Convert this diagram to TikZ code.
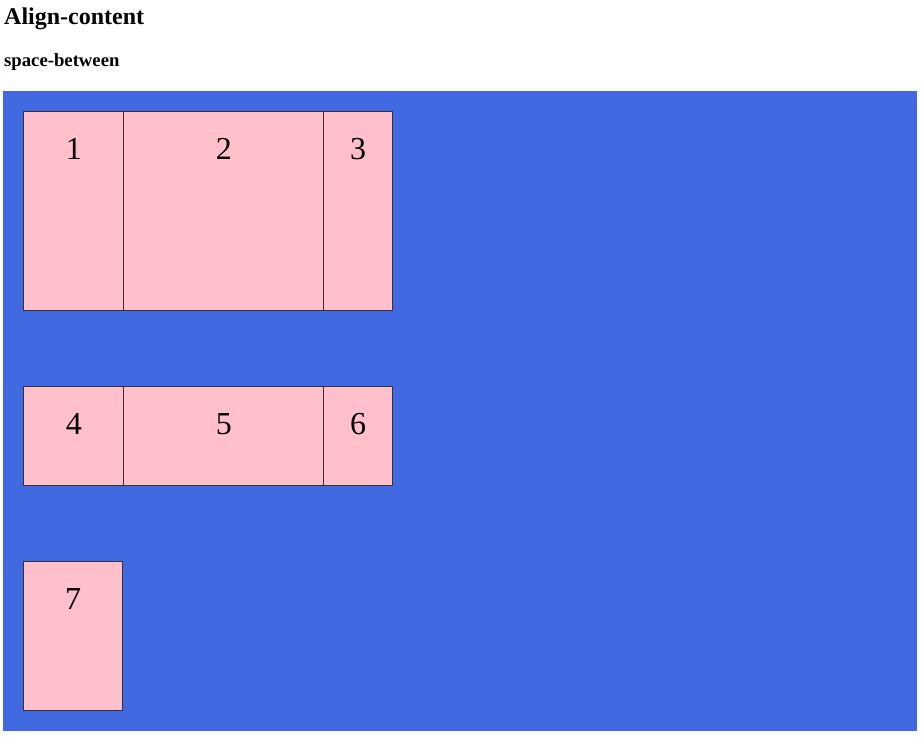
\documentclass[tikz,border=0pt]{standalone}
\usepackage{fontspec}
\setmainfont{Liberation Serif}
\usetikzlibrary{positioning}
\definecolor{royal}{HTML}{4169E1}
\definecolor{pinkbox}{HTML}{FFC0CB}
\definecolor{edgegray}{HTML}{333333}

\begin{document}
\begin{tikzpicture}[x=1pt,y=-1pt,
  item/.style={draw=edgegray, fill=pinkbox, line width=1pt, anchor=north west, inner sep=0pt, minimum width=#1},
  num/.style={anchor=base, inner sep=0pt, font=\fontsize{32}{38}\selectfont}]
\useasboundingbox (0,0) rectangle (922,739);

\node[anchor=base west, inner sep=0pt, font=\bfseries\fontsize{24}{28}\selectfont] (title) at (4,24) {Align-content};
\node[anchor=base west, inner sep=0pt, font=\bfseries\fontsize{18.7}{22}\selectfont] (sub) at (4,66) {space-between};

% container
\fill[royal] (3,91) rectangle (917,731);

% first line
\node[item=100pt, minimum height=198.8pt] (b1) at (23.3,111.3) {};
\node[item=200pt, minimum height=198.8pt] (b2) at (123.3,111.3) {};
\node[item=68.8pt, minimum height=198.8pt] (b3) at (323.3,111.3) {};

% second line
\node[item=100pt, minimum height=98.8pt] (b4) at (23.3,386.3) {};
\node[item=200pt, minimum height=98.8pt] (b5) at (123.3,386.3) {};
\node[item=68.8pt, minimum height=98.8pt] (b6) at (323.3,386.3) {};

% third line
\node[item=98.8pt, minimum height=148.8pt] (b7) at (23.3,561.3) {};

\foreach \i in {1,...,7}
  \node[num] (n\i) at ([yshift=-47.7pt]b\i.north) {\i};

\end{tikzpicture}
\end{document}
